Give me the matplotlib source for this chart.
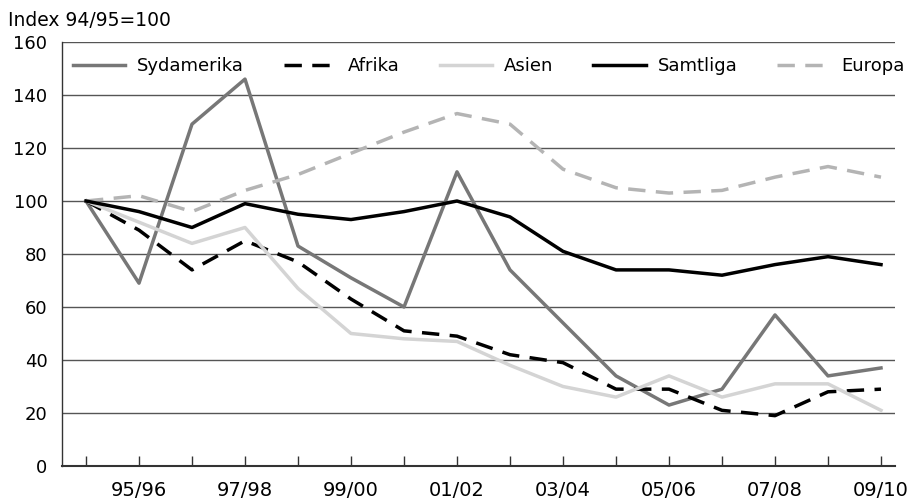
import matplotlib
matplotlib.use("Agg")
import matplotlib.pyplot as plt

years = ["94/95", "95/96", "96/97", "97/98", "98/99", "99/00", "00/01", "01/02",
         "02/03", "03/04", "04/05", "05/06", "06/07", "07/08", "08/09", "09/10"]
sydamerika = [100, 69, 129, 146, 83, 71, 60, 111, 74, 54, 34, 23, 29, 57, 34, 37]
afrika = [100, 89, 74, 85, 77, 63, 51, 49, 42, 39, 29, 29, 21, 19, 28, 29]
asien = [100, 92, 84, 90, 67, 50, 48, 47, 38, 30, 26, 34, 26, 31, 31, 21]
samtliga = [100, 96, 90, 99, 95, 93, 96, 100, 94, 81, 74, 74, 72, 76, 79, 76]
europa = [100, 102, 96, 104, 110, 118, 126, 133, 129, 112, 105, 103, 104, 109, 113, 109]
yticks = [0, 20, 40, 60, 80, 100, 120, 140, 160]

FONT = "DejaVu Sans"

fig = plt.figure(figsize=(9.09, 4.99), dpi=100)
ax = fig.add_axes([62/909, 33/499, (895-62)/909, (466-42)/499])

x = list(range(len(years)))
lw = 2.5
dash = (5, 3)
ax.plot(x, sydamerika, color="#777777", lw=lw, label="Sydamerika", zorder=3)
ax.plot(x, afrika, color="#000000", lw=lw, dashes=dash, label="Afrika", zorder=3)
ax.plot(x, asien, color="#d4d4d4", lw=lw, label="Asien", zorder=3)
ax.plot(x, samtliga, color="#000000", lw=lw, label="Samtliga", zorder=4)
ax.plot(x, europa, color="#b4b4b4", lw=lw, dashes=dash, label="Europa", zorder=3)

ax.set_ylim(0, 160)
ax.set_xlim(-(86-62)/53, (895-86)/53)
ax.set_yticks(yticks)
ax.set_yticklabels([str(v) for v in yticks], fontsize=13, family=FONT)
for v in yticks[1:]:
    ax.axhline(v, color="#555555", lw=1.0, zorder=1)

ax.set_xticks(x)
ax.set_xticklabels([y if i % 2 == 1 else "" for i, y in enumerate(years)],
                   fontsize=14, family=FONT)
ax.tick_params(axis="x", direction="in", length=7, width=1, color="#333333", pad=11)
ax.tick_params(axis="y", length=0, pad=10.5)

for s in ["top", "right"]:
    ax.spines[s].set_visible(False)
ax.spines["left"].set_color("#333333")
ax.spines["bottom"].set_color("#333333")
ax.spines["bottom"].set_linewidth(1.5)
ax.spines["left"].set_linewidth(1.0)

leg = ax.legend(loc="upper left", bbox_to_anchor=(0.0, 0.99), ncol=5, frameon=False,
                handlelength=2.9, handletextpad=0.65, columnspacing=2.22,
                prop={"family": FONT, "size": 13}, borderaxespad=0.2)

fig.text(8/909, 1 - 20/499, "Index 94/95=100", fontsize=13.5, family=FONT,
         va="center", ha="left")

fig.savefig("out.png", dpi=100)
